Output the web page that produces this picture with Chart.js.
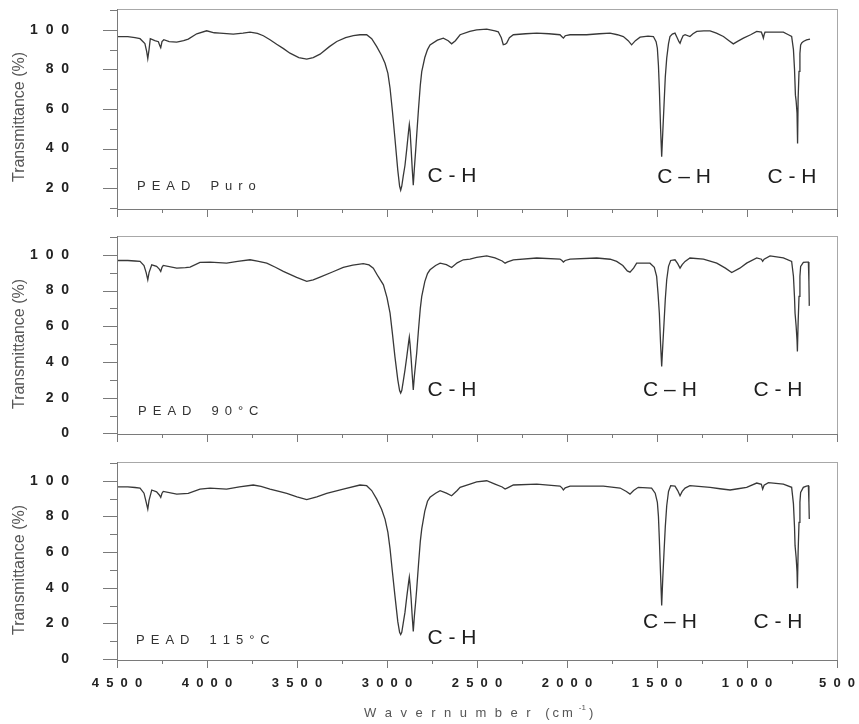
<!DOCTYPE html>
<html><head><meta charset="utf-8">
<script src="https://cdn.jsdelivr.net/npm/chart.js"></script>
<style>
html,body{margin:0;padding:0;background:#fff;}
#wrap{position:relative;width:859px;height:724px;overflow:hidden;background:#fff;}
canvas{position:absolute;left:0;}
</style></head><body>
<div id="wrap">
<canvas id="c1" width="859" height="226" style="top:0px"></canvas>
<canvas id="c2" width="859" height="226" style="top:226px"></canvas>
<canvas id="c3" width="859" height="272" style="top:452px"></canvas>
</div>
<script>
// ---------- DATA ----------
const xTickValues = [4500, 4000, 3500, 3000, 2500, 2000, 1500, 1000, 500];
const xMinorValues = [4250, 3750, 3250, 2750, 2250, 1750, 1250, 750];
const yTicksPuro = [20, 40, 60, 80, 100];
const yTicksHeated = [0, 20, 40, 60, 80, 100];
const yMinorValues = [10, 30, 50, 70, 90, 110];
const sampleNames = ['PEAD Puro', 'PEAD 90°C', 'PEAD 115°C'];
const bandLabels = ['C - H', 'C – H', 'C - H'];

const puroWn = [4500,4440,4400,4372,4345,4335,4329,4322,4315,4290,4270,4262,4257,4250,4240,4210,4168,4130,4104,4057,4002,3960,3928,3854,3800,3761,3720,3687,3650,3613,3575,3539,3490,3446,3410,3372,3320,3279,3230,3187,3150,3113,3085,3057,3030,3011,2995,2983,2970,2956,2940,2930,2924,2918,2910,2900,2890,2880,2876,2872,2866,2860,2854,2848,2840,2835,2825,2815,2807,2790,2775,2761,2720,2687,2660,2641,2620,2594,2540,2502,2446,2400,2382,2365,2354,2343,2335,2320,2298,2230,2168,2100,2039,2028,2020,2010,1983,1891,1820,1761,1720,1687,1660,1641,1620,1594,1550,1520,1505,1498,1492,1487,1480,1474,1468,1461,1454,1446,1436,1428,1415,1400,1388,1378,1372,1365,1355,1344,1317,1300,1279,1240,1205,1170,1131,1100,1076,1050,1020,980,946,920,913,909,905,900,850,798,770,752,742,736,731,727,722,719,716,711,706,702,695,687,669,650];
const puroT = [96.5,96.5,96,95.5,93,89,85.5,90,95.5,94.5,94,92,91,94,95,94,93.8,94.5,95.3,98,99.5,98.5,98.3,97.8,98.3,98.8,98.2,97,95,92.7,90.5,88.2,86,85.2,86,87.7,91.5,94.1,96,97.1,97.5,97.5,95.5,91.5,87,83.1,78,70.5,59,45.2,29,21,19,21,26,31.6,40,49,52.2,49,40,30,21.5,30,40,46.8,60,72,78.9,86,90,92.4,94.8,95.8,94.5,92.9,94.5,97.5,99.2,100,100.3,99.5,99,96,92.5,92.7,93.3,96,97.5,98,98.3,98,97.5,96.5,95.8,97,97.5,97.5,98,98.3,97.5,96.6,94.5,92.4,94.5,96.3,96.8,96.6,94,90.7,82,70.5,50,35.9,48,62,76,85.7,93,96.6,97.8,98.3,96,94,93.2,95,97,97.5,96.6,98,99.2,99.5,99.5,98.3,96.6,94.5,92.9,94.3,95.8,97.5,99.2,98.8,97,95.8,97.5,98.8,98.8,98.8,97.5,96.6,90,80,67,64,58,42.6,65,79,88,92.4,93.5,94.1,94.9,95.3];

const p90Wn = [4500,4440,4400,4372,4350,4338,4329,4322,4307,4280,4265,4257,4250,4243,4168,4120,4094,4039,3983,3891,3830,3761,3720,3668,3620,3576,3502,3446,3410,3372,3300,3243,3190,3132,3100,3076,3050,3020,3000,2983,2970,2956,2940,2930,2924,2918,2910,2900,2890,2880,2876,2872,2866,2860,2854,2848,2840,2835,2825,2815,2807,2790,2775,2761,2730,2705,2670,2641,2610,2576,2539,2502,2446,2400,2360,2344,2330,2298,2168,2039,2028,2020,2010,1983,1835,1760,1724,1690,1665,1650,1630,1613,1539,1515,1502,1494,1487,1480,1474,1468,1461,1454,1446,1436,1424,1400,1385,1372,1360,1344,1317,1242,1168,1120,1085,1040,1002,946,920,913,905,872,798,752,742,736,733,727,722,720,716,711,706,702,687,670,659,656,654];
const p90T = [96.8,96.8,96.5,96.3,94,90,86,90,94.4,93.5,92,90.7,93,94,92.5,92.8,93.1,95.7,95.9,95.3,96.3,97.2,96.5,95.3,93,90.7,87.3,85.1,86,87.5,90.5,92.9,94.2,95,94.3,92.5,88,83.2,76,67.3,56,43,30,24,22.6,24,29,35.6,43,51,53.9,50,42,33,24.4,32,40,45,58,70,76.7,85,89.5,91.6,94,95.3,94.5,92.9,95.5,97.2,97.6,98.5,99.4,98.2,96.5,95.3,96,97.2,98.2,97.6,96.8,95.9,96.8,97.6,98.2,97.5,96.3,94,91,90.3,92.5,95.3,95.3,93,87.9,78,67.3,50,37.5,49,61.8,75,86,93.5,96.8,97.2,95,92.5,94.5,96.3,98.2,97.6,95.3,92.5,90.1,92.5,95.3,98.2,97.5,96.3,97.5,99.4,98.2,96.3,88,76,67.3,60,52,45.9,62,76.7,88,93.5,95.7,95.9,95.9,85,71.4];

const p115Wn = [4500,4440,4400,4372,4350,4338,4329,4322,4307,4280,4265,4257,4250,4243,4168,4104,4039,3983,3891,3820,3743,3700,3650,3600,3557,3500,3446,3390,3335,3243,3150,3113,3085,3057,3030,3011,2995,2983,2970,2956,2940,2930,2924,2918,2910,2900,2890,2880,2876,2872,2866,2860,2854,2848,2840,2835,2825,2815,2807,2790,2775,2761,2730,2705,2670,2641,2610,2594,2539,2502,2446,2400,2360,2344,2330,2298,2168,2039,2028,2020,2010,1983,1798,1705,1670,1650,1630,1604,1530,1510,1498,1492,1487,1480,1474,1468,1461,1454,1446,1436,1424,1400,1385,1372,1360,1344,1317,1205,1150,1094,1050,1002,946,920,913,905,881,798,752,742,736,733,727,722,720,716,711,706,702,687,670,659,656,654];
const p115T = [96.6,96.6,96.2,95.9,93,88,84.1,89,94.8,93.8,92,90.7,93,94,92.5,92.9,95.3,95.9,95.3,96.5,97.6,96.8,95.3,94,92.9,91,89.4,91,92.9,95.3,97.6,97.2,94.5,89.7,84,78.5,71,61.8,49,35.6,21,15,13.8,15,20,26.3,35,43,45.9,42,34,24,15.5,24,33,39.3,53,66,73,83,88.5,90.7,93,94.4,93,91.6,94.5,96.3,98.1,99.4,100,98.1,96.5,95.3,96,97.6,98.1,97,96,94.8,96,97,97,95.9,94,92.5,94.5,96.3,95.9,93,87.9,80,67.3,47,30,45,59.9,74,86,94,97.2,97,94.5,91.6,94,95.9,97.2,96.3,95.5,94.8,95.5,96.3,98.7,98,95.3,97.5,98.9,98.1,96.3,87,74,63.6,57,49,39.7,60,76.7,88,93.5,96.3,97,97.2,88,78.5];

// ---------- LAYOUT / STYLE ----------
const FONT = "'Liberation Sans', Arial, Helvetica, sans-serif";
const spaced = s => String(s).split('').join('  ');

// annotation anchors in data coordinates (wavenumber, transmittance)
const notes = [
  {name:[4389, 21.0], bands:[[2639, 26.1],[1350, 25.6],[750, 25.6]]},
  {name:[4383, 12.1], bands:[[2639, 24.4],[1428, 24.4],[828, 24.4]]},
  {name:[4394, 10.4], bands:[[2639, 11.5],[1428, 20.5],[828, 20.5]]}
];

function spacedText(ctx, text, x, y, gap, wordGap) {
  for (const ch of text) {
    if (ch === ' ') { x += wordGap; continue; }
    ctx.fillText(ch, x, y);
    x += ctx.measureText(ch).width + gap;
  }
  return x;
}

const decor = {
  id: 'decor',
  afterDraw(chart, args, o) {
    const ctx = chart.ctx, a = chart.chartArea;
    const xs = chart.scales.x, ys = chart.scales.y;
    ctx.save();
    // frame
    ctx.lineWidth = 1;
    ctx.strokeStyle = '#a8a8a8';
    ctx.strokeRect(a.left + 0.5, a.top + 0.5, a.right - a.left, a.bottom - a.top);
    ctx.strokeStyle = '#7a7a7a';
    ctx.beginPath();
    ctx.moveTo(a.left + 0.5, a.top); ctx.lineTo(a.left + 0.5, a.bottom + 0.5);
    ctx.lineTo(a.right + 0.5, a.bottom + 0.5);
    // y ticks
    for (const v of o.yTicks) {
      const p = Math.round(ys.getPixelForValue(v)) + 0.5;
      ctx.moveTo(a.left - 14, p); ctx.lineTo(a.left, p);
    }
    for (const v of yMinorValues) {
      if (v < ys.min || v > ys.max) continue;
      const p = Math.round(ys.getPixelForValue(v)) + 0.5;
      ctx.moveTo(a.left - 7, p); ctx.lineTo(a.left, p);
    }
    // x ticks
    for (const v of xTickValues) {
      const p = Math.round(xs.getPixelForValue(v)) + 0.5;
      ctx.moveTo(p, a.bottom); ctx.lineTo(p, a.bottom + 8);
    }
    for (const v of xMinorValues) {
      const p = Math.round(xs.getPixelForValue(v)) + 0.5;
      ctx.moveTo(p, a.bottom); ctx.lineTo(p, a.bottom + 4);
    }
    ctx.stroke();

    // y title
    ctx.fillStyle = '#555';
    ctx.font = '16px ' + FONT;
    ctx.textAlign = 'center';
    ctx.textBaseline = 'middle';
    ctx.save();
    ctx.translate(20, a.top + 108);
    ctx.rotate(-Math.PI / 2);
    ctx.fillText('Transmittance (%)', 0, 0);
    ctx.restore();

    // sample name
    const n = notes[o.idx];
    ctx.fillStyle = '#333';
    ctx.font = '13px ' + FONT;
    ctx.textAlign = 'left';
    spacedText(ctx, sampleNames[o.idx], xs.getPixelForValue(n.name[0]), ys.getPixelForValue(n.name[1]), 6, 14);

    // band labels
    ctx.fillStyle = '#1e1e1e';
    ctx.font = '21px ' + FONT;
    ctx.textAlign = 'center';
    n.bands.forEach((b, i) => {
      ctx.fillText(bandLabels[i], xs.getPixelForValue(b[0]), ys.getPixelForValue(b[1]));
    });

    // x title (bottom panel)
    if (o.showX) {
      ctx.fillStyle = '#555';
      ctx.font = '13px ' + FONT;
      ctx.textAlign = 'left';
      const ty = 261;
      let x = spacedText(ctx, 'Wavernumber', 364, ty, 8.5, 8);
      x += 6;
      x = spacedText(ctx, '(cm', x, ty, 3, 3);
      x += 3;
      ctx.font = '8px ' + FONT;
      ctx.fillText('-1', x, ty - 5);
      x += ctx.measureText('-1').width + 3;
      ctx.font = '13px ' + FONT;
      ctx.fillText(')', x, ty);
    }
    ctx.restore();
  }
};

const panels = [
  {id:'c1', wn:puroWn, t:puroT, yMin:9.5, yMax:110.5, yTicks:yTicksPuro, padTop:9, xH:17, showX:false},
  {id:'c2', wn:p90Wn, t:p90T, yMin:-0.3, yMax:110.5, yTicks:yTicksHeated, padTop:10, xH:18, showX:false},
  {id:'c3', wn:p115Wn, t:p115T, yMin:-0.5, yMax:110.5, yTicks:yTicksHeated, padTop:10, xH:64, showX:true}
];

const hiddenGrid = len => ({display: true, drawOnChartArea: false, drawTicks: true, tickLength: len, color: 'rgba(0,0,0,0)'});

panels.forEach((p, idx) => {
  new Chart(document.getElementById(p.id), {
    type: 'line',
    data: {
      datasets: [{
        data: p.wn.map((w, i) => ({x: w, y: p.t[i]})),
        borderColor: '#383838',
        borderWidth: 1.3,
        pointRadius: 0,
        fill: false,
        tension: 0
      }]
    },
    options: {
      responsive: false,
      animation: false,
      devicePixelRatio: 1,
      layout: {padding: {top: p.padTop, right: 22, left: 0, bottom: 0}},
      plugins: {
        legend: {display: false},
        tooltip: {enabled: false},
        decor: {idx: idx, yTicks: p.yTicks, showX: p.showX}
      },
      scales: {
        x: {
          type: 'linear', reverse: true, min: 500, max: 4500,
          afterBuildTicks: s => { s.ticks = xTickValues.map(v => ({value: v})); },
          afterFit: s => { s.height = p.xH; },
          grid: hiddenGrid(16),
          border: {display: false},
          ticks: {
            display: p.showX, autoSkip: false, maxRotation: 0, padding: 0,
            color: '#222', font: {family: FONT, size: 13, weight: 'bold'},
            callback: v => spaced(v)
          }
        },
        y: {
          type: 'linear', min: p.yMin, max: p.yMax,
          afterBuildTicks: s => { s.ticks = p.yTicks.map(v => ({value: v})); },
          afterFit: s => { s.width = 117; },
          grid: hiddenGrid(48),
          border: {display: false},
          ticks: {
            padding: 0, color: '#222',
            font: {family: FONT, size: 14, weight: 'bold'},
            callback: v => spaced(v)
          }
        }
      }
    },
    plugins: [decor]
  });
});
</script>
</body></html>
